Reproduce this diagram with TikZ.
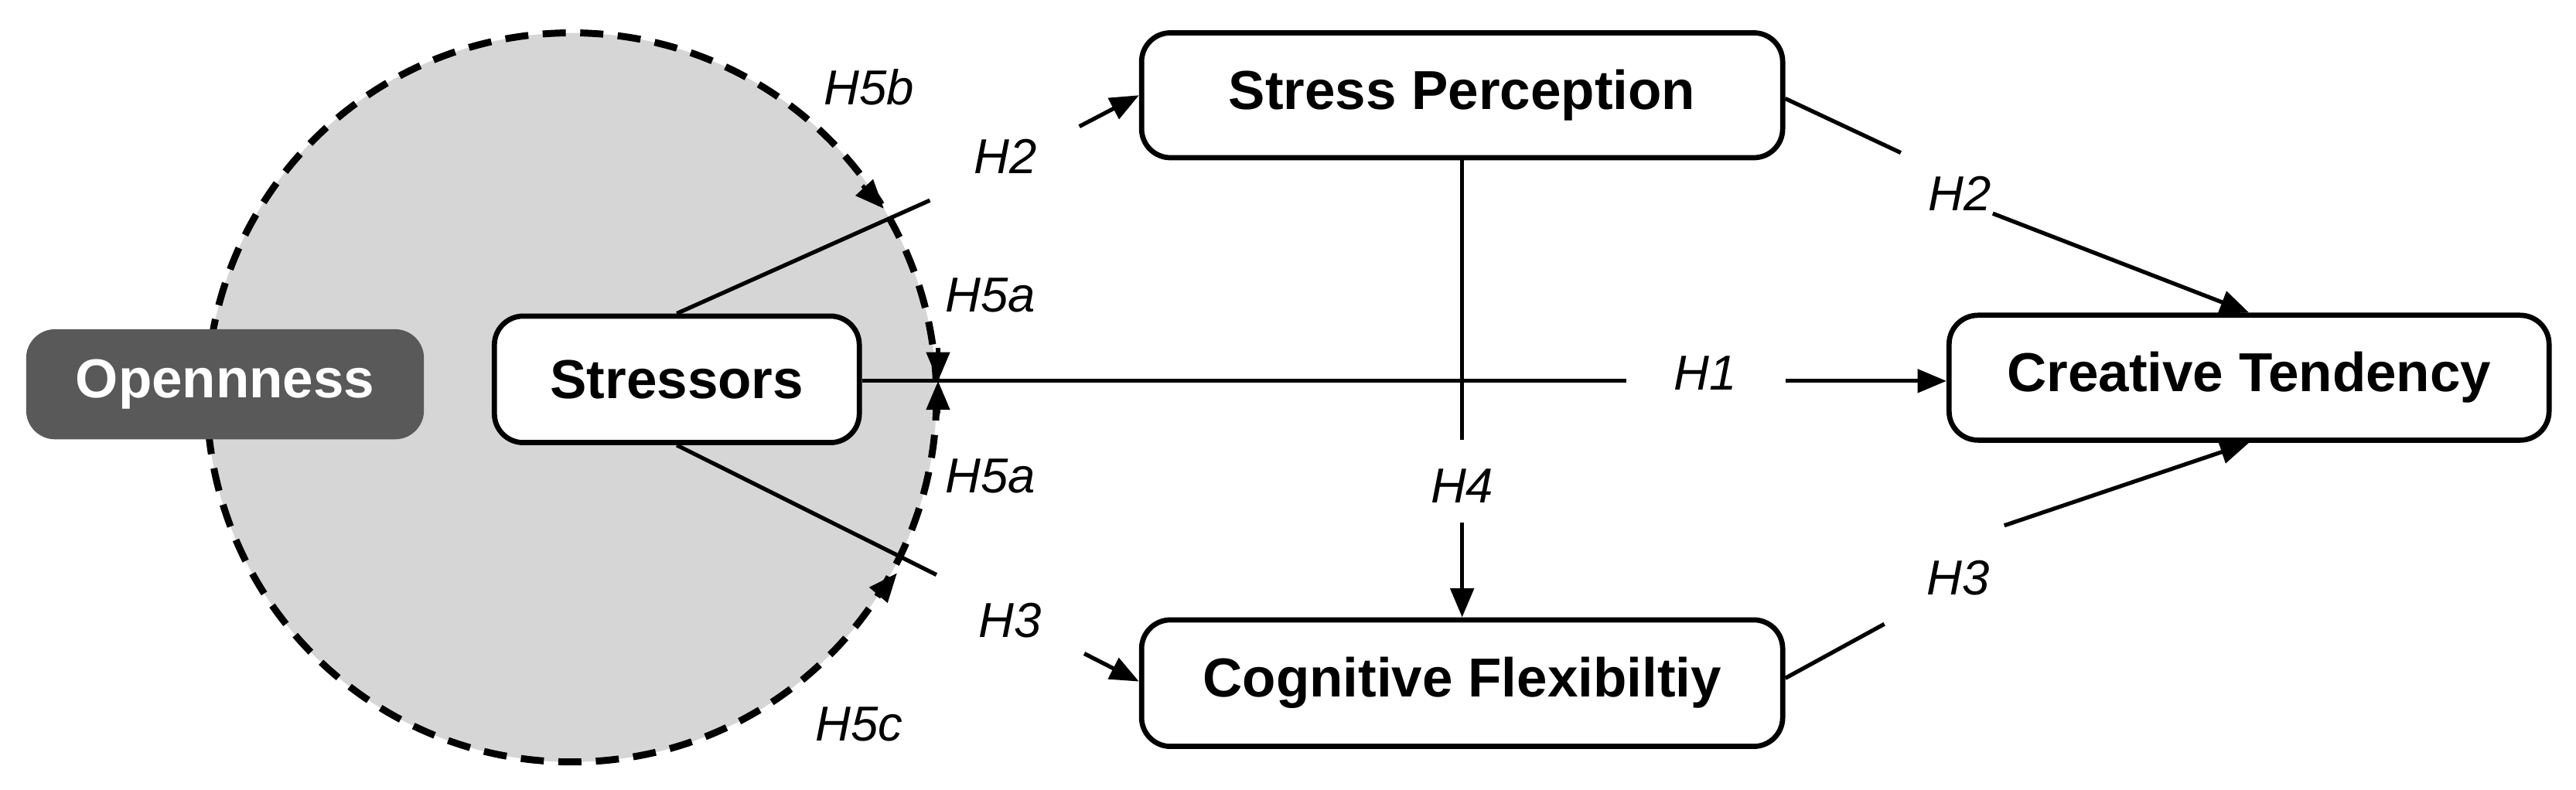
\documentclass[tikz,border=0pt]{standalone}
\usepackage{fontspec}
\setmainfont{Liberation Sans}
\usetikzlibrary{arrows.meta}
\begin{document}
\begin{tikzpicture}[x=0.01cm,y=-0.01cm,
 box/.style={draw=black,line width=0.9pt,rounded corners=5pt,fill=white,font=\fontsize{9.5}{11}\selectfont\bfseries,inner sep=0pt},
 lab/.style={font=\fontsize{8.5}{10}\selectfont\itshape},
 ln/.style={line width=0.7pt},
 ar/.style={line width=0.7pt,-{Triangle[length=5pt,width=4pt]}}]
\useasboundingbox (0,0) rectangle (1568,481);
\draw[fill=black!16,dashed,line width=1.2pt,dash pattern=on 4pt off 2.5pt] (348,242) circle (222);
\node[box,draw=none,fill=black!65,text=white,minimum width=2.42cm,minimum height=0.67cm] (O) at (137,234) {Opennness};
\node[box,minimum width=2.22cm,minimum height=0.77cm] (S) at (412,231) {Stressors};
\node[box,minimum width=3.9cm,minimum height=0.76cm] (SP) at (890,58) {Stress Perception};
\node[box,minimum width=3.9cm,minimum height=0.77cm] (CF) at (890,416) {Cognitive Flexibiltiy};
\node[box,minimum width=3.65cm,minimum height=0.76cm] (CT) at (1369,230) {Creative Tendency};
% labels
\node[lab] (l2a) at (612,95) {H2};
\node[lab] (l3a) at (615,378) {H3};
\node[lab] (l1) at (1038,227) {H1};
\node[lab] (l4) at (890,296) {H4};
\node[lab] (l2b) at (1193,118) {H2};
\node[lab] (l3b) at (1192,352) {H3};
\node[lab] (l5b) at (529,53) {H5b};
\node[lab] (l5a1) at (603,180) {H5a};
\node[lab] (l5a2) at (603,290) {H5a};
\node[lab] (l5c) at (523,441) {H5c};
% coordinates
\coordinate (a1) at (566,122); \coordinate (a2) at (657,77);
\coordinate (b1) at (570,350); \coordinate (b2) at (660,398);
\coordinate (c1) at (990,232); \coordinate (c2) at (1087,232);
\coordinate (d1) at (890,268); \coordinate (d2) at (890,318);
\coordinate (e1) at (1157,93); \coordinate (e2) at (1213,130);
\coordinate (f1) at (1147,380); \coordinate (f2) at (1220,320);
\draw[ln] (S.north) -- (a1); \draw[ar] (a2) -- (SP.west |- 0,58);
\draw[ln] (S.south) -- (b1); \draw[ar] (b2) -- (CF.west |- 0,415);
\draw[ln] (S.east |- 0,232) -- (c1); \draw[ar] (c2) -- (CT.west |- 0,232);
\draw[ln] (SP.south) -- (d1); \draw[ar] (d2) -- (CF.north);
\draw[ln] (SP.east |- 0,60) -- (e1); \draw[ar] (e2) -- (CT.north);
\draw[ln] (CF.east |- 0,413) -- (f1); \draw[ar] (f2) -- (CT.south);
% arrow tips on circle
\coordinate (t1a) at (525,113); \coordinate (t1b) at (538,127);
\coordinate (t2a) at (571,212); \coordinate (t2b) at (571,232);
\coordinate (t3a) at (571,252); \coordinate (t3b) at (571,232);
\coordinate (t4a) at (535,362); \coordinate (t4b) at (546,349);
\draw[ar] (t1a) -- (t1b); \draw[ar] (t2a) -- (t2b);
\draw[ar] (t3a) -- (t3b); \draw[ar] (t4a) -- (t4b);
\end{tikzpicture}
\end{document}
